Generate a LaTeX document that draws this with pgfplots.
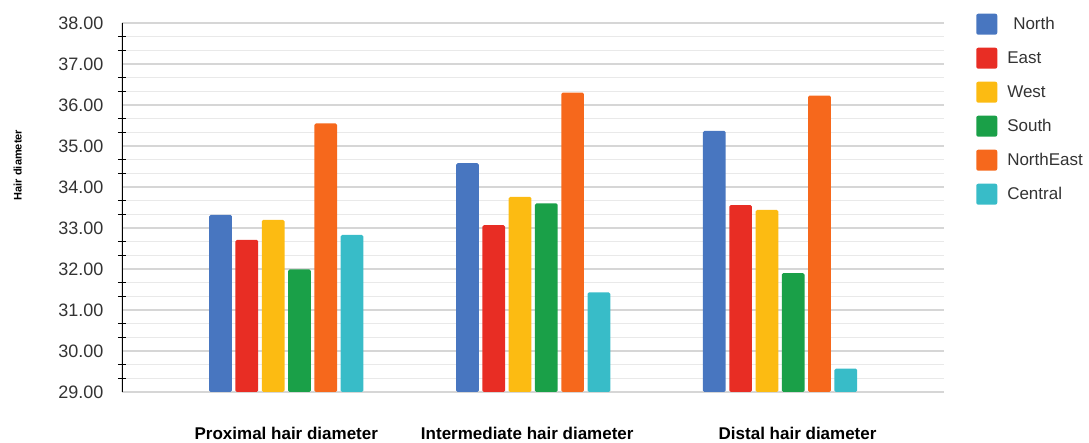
\documentclass[border=0pt]{standalone}
\usepackage{pgfplots}
\pgfplotsset{compat=1.18}
\usepackage{fontspec}
\setmainfont{Liberation Sans}
\definecolor{cNorth}{RGB}{72,118,192}
\definecolor{cEast}{RGB}{232,45,36}
\definecolor{cWest}{RGB}{252,187,18}
\definecolor{cSouth}{RGB}{26,160,72}
\definecolor{cNE}{RGB}{246,104,28}
\definecolor{cCentral}{RGB}{56,188,200}
\definecolor{gmaj}{RGB}{214,214,214}
\definecolor{gmin}{RGB}{233,233,233}
\definecolor{txt}{RGB}{51,51,51}
\begin{document}
\begin{tikzpicture}
\useasboundingbox (-122pt,-51pt) rectangle (967pt,392pt);
\begin{axis}[
  at={(0,0)}, anchor=south west,
  scale only axis, width=822pt, height=369pt,
  ybar, bar width=0.092,
  xmin=-0.6655, xmax=2.664,
  ymin=29, ymax=38,
  ytick={29,30,...,38},
  minor y tick num=2,
  ymajorgrids, yminorgrids,
  major grid style={line width=1.3pt, color=gmaj},
  minor grid style={line width=0.9pt, color=gmin},
  axis line style={draw=none},
  tick pos=left,
  major tick length=0pt,
  minor tick length=8pt,
  tick align=center,
  minor tick style={black, line width=1pt},
  xtick={0,0.976,2.071},
  xticklabels={Proximal hair diameter, Intermediate hair diameter, Distal hair diameter},
  xticklabel style={font=\fontsize{17}{20}\selectfont\bfseries, text=black, anchor=north, yshift=-32pt},
  yticklabel style={font=\fontsize{18}{21}\selectfont, text=txt, xshift=-15pt},
  /pgf/number format/.cd, fixed, fixed zerofill, precision=2, assume math mode=true,
  /pgfplots/.cd,
  ylabel={Hair diameter},
  ylabel style={font=\fontsize{11}{13}\selectfont\bfseries, at={(axis description cs:-0.127,0.615)}, anchor=center, rotate=0},
  legend style={at={(axis description cs:1.039,1.0434)}, anchor=north west, draw=none, fill=none, inner sep=0pt,
     font=\fontsize{17}{20}\selectfont, text=txt,
     nodes={minimum height=34pt, inner sep=0pt, anchor=west}},
  legend cell align=left,
  legend image code/.code={\fill[#1, draw=none, rounded corners=2pt] (0pt,-10.5pt) rectangle (21pt,10.5pt); \path (31pt,0pt);},
  every axis plot/.append style={draw=none, rounded corners=1.5pt},
]
\addplot[fill=cNorth, bar shift=-0.2663] coordinates {(0,33.32) (1,34.58) (2,35.37)};
\addlegendentry{\hspace{6pt}North}
\addplot[fill=cEast, bar shift=-0.1598] coordinates {(0,32.71) (1,33.07) (2,33.56)};
\addlegendentry{East}
\addplot[fill=cWest, bar shift=-0.0533] coordinates {(0,33.20) (1,33.76) (2,33.44)};
\addlegendentry{West}
\addplot[fill=cSouth, bar shift=0.0533] coordinates {(0,31.99) (1,33.60) (2,31.90)};
\addlegendentry{South}
\addplot[fill=cNE, bar shift=0.1598] coordinates {(0,35.55) (1,36.30) (2,36.23)};
\addlegendentry{NorthEast}
\addplot[fill=cCentral, bar shift=0.2663] coordinates {(0,32.83) (1,31.43) (2,29.57)};
\addlegendentry{Central}
\draw[black, line width=1.2pt] (axis description cs:0,0) -- (axis description cs:0,1);
\end{axis}
\end{tikzpicture}
\end{document}
